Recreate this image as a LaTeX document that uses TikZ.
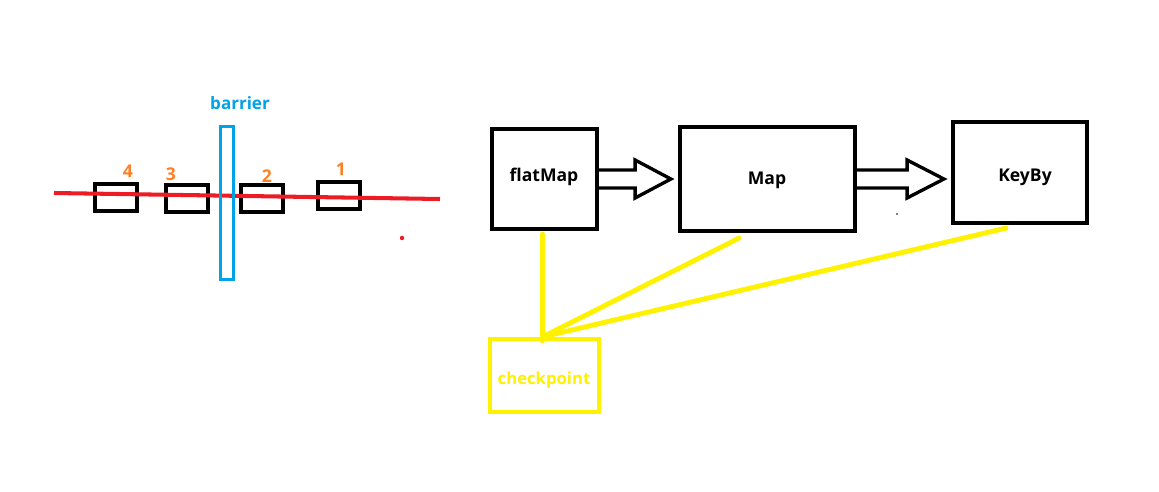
\documentclass[tikz,border=0pt]{standalone}
\usepackage{fontspec}
\setmainfont{Open Sans}
\usetikzlibrary{positioning,calc}

\definecolor{paintred}{RGB}{237,28,36}
\definecolor{paintblue}{RGB}{0,162,232}
\definecolor{paintorange}{RGB}{255,127,39}
\definecolor{paintyellow}{RGB}{255,242,0}

% hollow block arrow from one node to the next
\newcommand{\hollowarrow}[3]{%
  \draw[hollow] ($(#1.east)+(0,-9)$) -- ($(#1.east)+(#3,-9)$) -- ($(#1.east)+(#3,-19)$)
    -- ($(#2.west|-#1.east)+(-7,0)$) -- ($(#1.east)+(#3,19)$) -- ($(#1.east)+(#3,9)$)
    -- ($(#1.east)+(0,9)$);}

\begin{document}
\begin{tikzpicture}[x=0.02cm,y=-0.02cm,
    op/.style={draw,line width=2.4pt,inner sep=0pt,font=\fontsize{10}{12}\selectfont\bfseries},
    rec/.style={draw,line width=2.3pt,inner sep=0pt,minimum width=0.84cm,minimum height=0.54cm},
    num/.style={text=paintorange,font=\fontsize{10}{12}\selectfont\bfseries},
    hollow/.style={line width=1.9pt,line join=miter,fill=white},
    ckline/.style={paintyellow,line width=2.8pt,line cap=round}]
  \useasboundingbox (0,0) rectangle (1159,491);

  % Left: stream with barrier
  \coordinate (s0) at (54,193);
  \coordinate (s1) at (440,199);
  \foreach \n/\x/\y/\lx/\ly in {4/116/197.5/128/171, 3/187/198.5/171/174,
                                2/262/198.5/267/176, 1/339/195.5/341/169} {
    \node[rec] (rec\n) at (\x,\y) {};
    \node[num] (num\n) at (\lx,\ly) {\n};
  }
  \draw[paintred,line width=2.3pt] (s0) -- (s1);
  \fill[paintred] (402,238) circle (2.2);
  \node[draw=paintblue,line width=1.8pt,minimum width=0.26cm,minimum height=3.06cm,inner sep=0pt]
    (barrier) at (227,203) {};
  \node[text=paintblue,font=\fontsize{9.7}{12}\selectfont\bfseries] (barlabel) at (240,103) {barrier};

  % Right: operators
  \node[op,minimum width=2.1cm,minimum height=2.0cm] (flatmap) at (544.5,179) {};
  \node[op,minimum width=3.5cm,minimum height=2.08cm] (map) at (767.5,179) {};
  \node[op,minimum width=2.68cm,minimum height=2.02cm] (keyby) at (1020,172.5) {};
  \node[font=\fontsize{10}{12}\selectfont\bfseries] at (544,177) {flatMap};
  \node[font=\fontsize{10}{12}\selectfont\bfseries] at (767,180) {Map};
  \node[font=\fontsize{10}{12}\selectfont\bfseries] at (1025,177) {KeyBy};
  \hollowarrow{flatmap}{map}{36}
  \hollowarrow{map}{keyby}{50}
  \fill (897,214) circle (0.8);

  % checkpoint
  \node[draw=paintyellow,line width=2.4pt,minimum width=2.18cm,minimum height=1.46cm,inner sep=0pt]
    (ckpt) at (544.5,375.5) {};
  \node[text=paintyellow,font=\fontsize{9.5}{12}\selectfont\bfseries] (cklabel) at (544,380) {checkpoint};
  \draw[ckline] ($(flatmap.south)+(-2,3)$) -- ($(ckpt.north)+(-2,4)$);
  \draw[ckline] ($(map.south)+(-28.5,5)$) -- ($(ckpt.north)+(-2,0)$);
  \draw[ckline] ($(keyby.south)+(-14,3)$) -- ($(ckpt.north)+(-2,0)$);
\end{tikzpicture}
\end{document}
